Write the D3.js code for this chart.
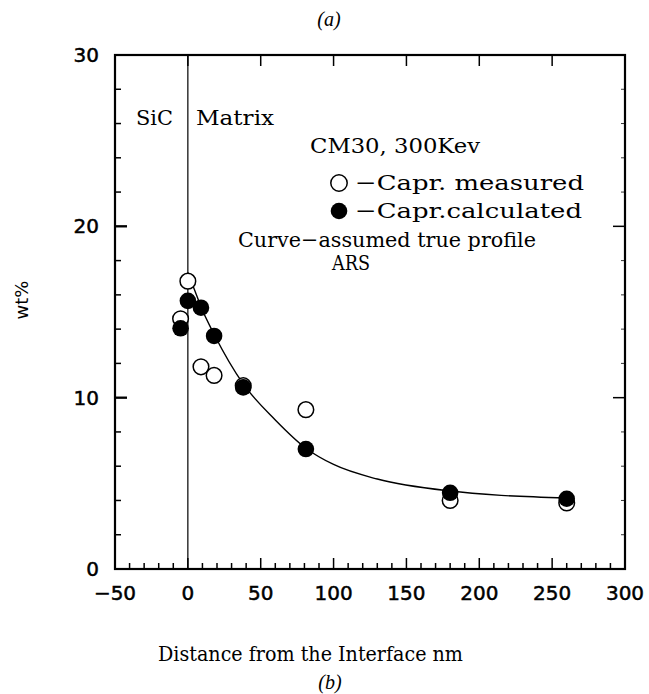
<!DOCTYPE html>
<html><head><meta charset="utf-8">
<script src="https://cdn.jsdelivr.net/npm/d3@7"></script>
<style>
html,body{margin:0;padding:0;background:#fff;}
svg{display:block;}
.tick-label{font-family:"DejaVu Sans",sans-serif;font-size:20px;fill:#000;stroke:#000;stroke-width:0.5px;}
.ann{font-family:"DejaVu Serif",serif;font-size:21px;fill:#000;}
</style>
</head><body>
<svg id="chart" width="649" height="694"></svg>
<script>
// ---- data ----
const xTicks = [-50, 0, 50, 100, 150, 200, 250, 300];
const yTicks = [0, 10, 20, 30];
const measuredX = [-5, 0, 9, 18, 38, 81, 180, 260];
const measuredY = [14.6, 16.8, 11.8, 11.3, 10.7, 9.3, 4.0, 3.85];
const calcX = [-5, 0, 9, 18, 38, 81, 180, 260];
const calcY = [14.05, 15.65, 15.25, 13.6, 10.6, 7.0, 4.45, 4.1];
const curveX = [0, 5, 9, 18, 38, 60, 81, 100, 130, 180, 215, 260];
const curveY = [17.3, 16.2, 15.3, 13.7, 10.8, 8.7, 7.05, 6.1, 5.25, 4.55, 4.3, 4.15];

const svg = d3.select("#chart");
const L = 115, R = 625, T = 55, B = 569;
const x = d3.scaleLinear().domain([-50, 300]).range([L, R]);
const y = d3.scaleLinear().domain([0, 30]).range([B, T]);

// frame
svg.append("rect").attr("x", L).attr("y", T).attr("width", R - L).attr("height", B - T)
  .attr("fill", "none").attr("stroke", "#000").attr("stroke-width", 2.2);

// ticks
const g = svg.append("g").attr("stroke", "#000").attr("stroke-width", 1.5);
const xMinor = d3.range(-50, 301, 10);
xMinor.forEach(v => {
  const major = v % 50 === 0;
  if (v === -50 || v === 300) return;
  g.append("line").attr("x1", x(v)).attr("x2", x(v)).attr("y1", B).attr("y2", B - (major ? 11 : 6));
  if (major) g.append("line").attr("x1", x(v)).attr("x2", x(v)).attr("y1", T).attr("y2", T + 11);
});
const yMinor = d3.range(0, 31, 2);
yMinor.forEach(v => {
  if (v === 0 || v === 30) return;
  const major = v % 10 === 0;
  g.append("line").attr("x1", L).attr("x2", L + (major ? 12 : 6)).attr("y1", y(v)).attr("y2", y(v));
  g.append("line").attr("x1", R).attr("x2", R - (major ? 12 : 4)).attr("y1", y(v)).attr("y2", y(v))
    .attr("stroke-width", major ? 1.5 : 0.8);
});
[10, 20].forEach(v => {
  g.append("line").attr("x1", L).attr("x2", L + 12).attr("y1", y(v)).attr("y2", y(v)).attr("stroke-width", 2.2);
});

// tick labels
svg.append("g").selectAll("text").data(xTicks).join("text")
  .attr("class", "tick-label").attr("x", d => x(d)).attr("y", 600)
  .attr("text-anchor", "middle").text(d => d < 0 ? "\u2212" + Math.abs(d) : d);
svg.append("g").selectAll("text").data(yTicks).join("text")
  .attr("class", "tick-label").attr("x", 99).attr("y", d => y(d) + 7)
  .attr("text-anchor", "end").text(d => d);

// interface line
svg.append("line").attr("x1", x(0)).attr("x2", x(0)).attr("y1", T).attr("y2", B)
  .attr("stroke", "#000").attr("stroke-width", 1.2);

// curve
const line = d3.line().x(d => x(d[0])).y(d => y(d[1])).curve(d3.curveMonotoneX);
svg.append("path").datum(curveX.map((v, i) => [v, curveY[i]]))
  .attr("d", line).attr("fill", "none").attr("stroke", "#000").attr("stroke-width", 1.4);

// points
svg.append("g").selectAll("circle").data(measuredX.map((v, i) => [v, measuredY[i]])).join("circle")
  .attr("cx", d => x(d[0])).attr("cy", d => y(d[1])).attr("r", 7.8)
  .attr("fill", "#fff").attr("stroke", "#000").attr("stroke-width", 1.5);
svg.append("g").selectAll("circle").data(calcX.map((v, i) => [v, calcY[i]])).join("circle")
  .attr("cx", d => x(d[0])).attr("cy", d => y(d[1])).attr("r", 8.3).attr("fill", "#000");

// legend & annotations
function ann(t, xx, yy, len) {
  const el = svg.append("text").attr("class", "ann").attr("x", xx).attr("y", yy).text(t);
  if (len) el.attr("textLength", len).attr("lengthAdjust", "spacingAndGlyphs");
  return el;
}
ann("SiC", 136, 125, 37);
ann("Matrix", 196, 125, 78);
ann("CM30, 300Kev", 310, 153, 170);
svg.append("circle").attr("cx", 339).attr("cy", 183).attr("r", 8.2).attr("fill", "#fff").attr("stroke", "#000").attr("stroke-width", 1.5);
svg.append("circle").attr("cx", 339).attr("cy", 211).attr("r", 8.3).attr("fill", "#000");
ann("\u2212Capr. measured", 355, 190, 229);
ann("\u2212Capr.calculated", 355, 218, 227);
ann("Curve\u2212assumed true profile", 238, 247, 298);
ann("ARS", 332, 270, 38);

// axis titles
svg.append("text").attr("transform", "translate(28,300) rotate(-90)").attr("text-anchor", "middle")
  .attr("font-family", "DejaVu Sans, sans-serif").attr("font-size", 18).text("wt%");
ann("Distance from the Interface nm", 158, 661, 305);
svg.append("text").attr("x", 330).attr("y", 689).attr("text-anchor", "middle")
  .attr("font-family", "Liberation Serif, serif").attr("font-style", "italic").attr("font-size", 20).text("(b)");
svg.append("text").attr("x", 329).attr("y", 26).attr("text-anchor", "middle")
  .attr("font-family", "Liberation Serif, serif").attr("font-style", "italic").attr("font-size", 20).text("(a)");
</script>
</body></html>
